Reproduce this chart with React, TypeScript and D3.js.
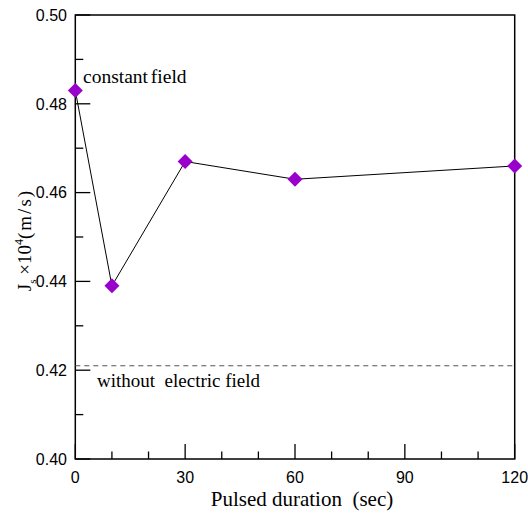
import React from "react";
import * as d3 from "d3";

// Pulsed duration (sec) and the measured flux Js (×10^4 m/s)
const durations = [0, 10, 30, 60, 120];
const fluxValues = [0.483, 0.439, 0.467, 0.463, 0.466];
const baselineFlux = 0.421; // without electric field

const xMajorTicks = [0, 30, 60, 90, 120];
const xMinorTicks = [10, 20, 40, 50, 70, 80, 100, 110];
const yMajorTicks = [0.4, 0.42, 0.44, 0.46, 0.48, 0.5];
const yMinorTicks = [0.41, 0.43, 0.45, 0.47, 0.49];

const W = 528;
const H = 515;
const left = 75.3;
const right = 514.7;
const top = 15;
const bottom = 459;

const sans = "'Liberation Sans', Arial, sans-serif";
const serif = "'Liberation Serif', 'Times New Roman', serif";
const markerColor = "#9900cc";

export default function App() {
  const x = d3.scaleLinear().domain([0, 120]).range([left, right]);
  const y = d3.scaleLinear().domain([0.4, 0.5]).range([bottom, top]);

  const pts: [number, number][] = durations.map((d, i) => [d, fluxValues[i]]);
  const line = d3
    .line<[number, number]>()
    .x((d) => x(d[0]))
    .y((d) => y(d[1]));

  const diamond = (cx: number, cy: number, r: number) =>
    `M${cx},${cy - r}L${cx + r},${cy}L${cx},${cy + r}L${cx - r},${cy}Z`;

  return (
    <svg
      width={W}
      height={H}
      style={{ position: "absolute", left: 0, top: 0, background: "#fff" }}
    >
      {/* frame */}
      <rect
        x={left}
        y={top}
        width={right - left}
        height={bottom - top}
        fill="none"
        stroke="#000"
        strokeWidth={1.5}
      />

      {/* x ticks (inward) */}
      {xMajorTicks.map((t) => (
        <g key={`xM${t}`}>
          <line x1={x(t)} x2={x(t)} y1={bottom} y2={bottom - 15} stroke="#000" strokeWidth={1.3} />
          <text
            x={x(t)}
            y={483}
            textAnchor="middle"
            fontFamily={sans}
            fontSize={16}
            fill="#000"
          >
            {t}
          </text>
        </g>
      ))}
      {xMinorTicks.map((t) => (
        <line key={`xm${t}`} x1={x(t)} x2={x(t)} y1={bottom} y2={bottom - 7.5} stroke="#000" strokeWidth={1.3} />
      ))}

      {/* y ticks (inward) */}
      {yMajorTicks.map((t) => (
        <g key={`yM${t}`}>
          <line x1={left} x2={left + 15} y1={y(t)} y2={y(t)} stroke="#000" strokeWidth={1.3} />
          <text
            x={67}
            y={y(t)}
            dy="0.36em"
            textAnchor="end"
            fontFamily={sans}
            fontSize={16}
            fill="#000"
          >
            {t.toFixed(2)}
          </text>
        </g>
      ))}
      {yMinorTicks.map((t) => (
        <line key={`ym${t}`} x1={left} x2={left + 8} y1={y(t)} y2={y(t)} stroke="#000" strokeWidth={1.3} />
      ))}

      {/* reference level without electric field */}
      <line
        x1={left}
        x2={right}
        y1={y(baselineFlux)}
        y2={y(baselineFlux)}
        stroke="#555"
        strokeWidth={1}
        strokeDasharray="5,4"
      />
      <text x={97} y={387} fontFamily={serif} fontSize={19} fill="#000" style={{ whiteSpace: "pre" }}>
        {"without  electric field"}
      </text>

      {/* data series */}
      <path d={line(pts) ?? ""} fill="none" stroke="#000" strokeWidth={1} />
      {pts.map(([d, v]) => (
        <path key={`p${d}`} d={diamond(x(d), y(v), 7.5)} fill={markerColor} />
      ))}
      <text x={83} y={83} fontFamily={serif} fontSize={19.5} wordSpacing={-2} fill="#000">
        constant field
      </text>

      {/* axis titles */}
      <text
        x={302}
        y={506}
        textAnchor="middle"
        fontFamily={serif}
        fontSize={21}
        fill="#000"
        style={{ whiteSpace: "pre" }}
      >
        {"Pulsed duration  (sec)"}
      </text>
      <text
        transform={`translate(31,240) rotate(-90)`}
        textAnchor="middle"
        fontFamily={serif}
        fontSize={19}
        fill="#000"
        style={{ whiteSpace: "pre" }}
      >
        <tspan>J</tspan>
        <tspan fontSize={11} dy={5}>s</tspan>
        <tspan dy={-5}>{" ×10"}</tspan>
        <tspan fontSize={12} dy={-8}>4</tspan>
        <tspan dy={8} letterSpacing={2}>(m/s)</tspan>
      </text>
    </svg>
  );
}
